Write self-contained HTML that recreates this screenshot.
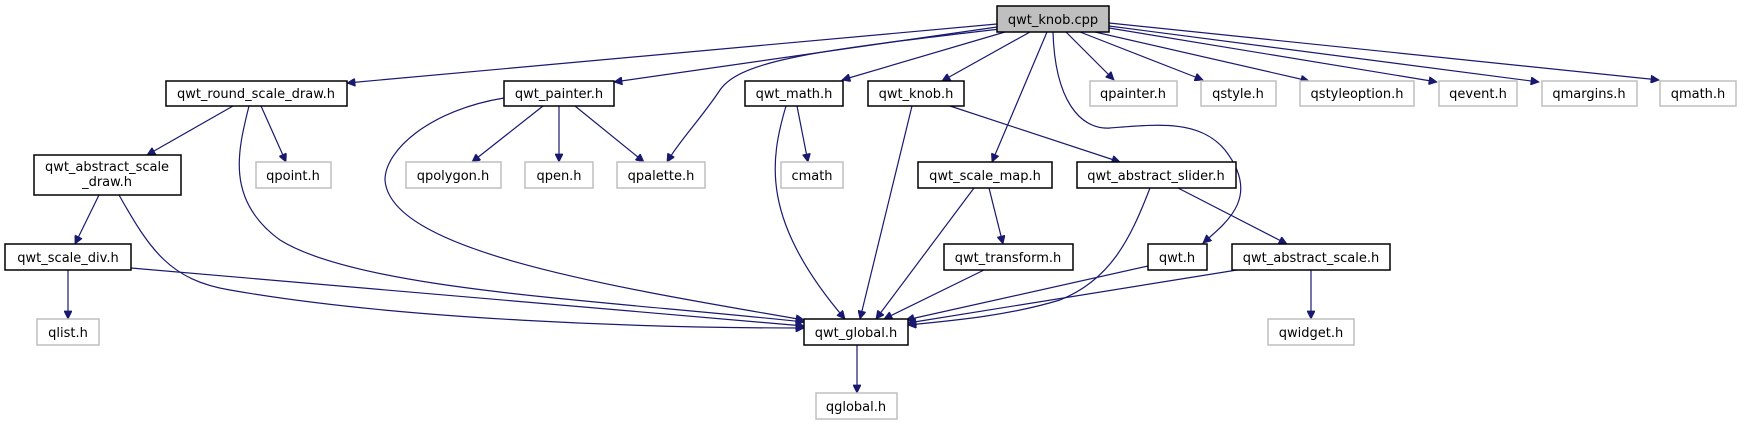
<!DOCTYPE html>
<html><head><meta charset="utf-8"><style>
html,body{margin:0;padding:0;background:#fff;}
svg{display:block;}
text{font-family:"DejaVu Sans","Liberation Sans",sans-serif;font-size:13px;fill:#000;text-anchor:middle;}
.n{fill:#fff;stroke:#000;stroke-width:1.5;}
.g{fill:#fff;stroke:#bfbfbf;stroke-width:1.5;}
.e{fill:none;stroke:#191970;stroke-width:1.2;marker-end:url(#a);}
</style></head><body>
<svg width="1743" height="425" viewBox="0 0 1743 425" xmlns="http://www.w3.org/2000/svg">
<defs><marker id="a" viewBox="0 0 10 10" refX="10" refY="5" markerWidth="10" markerHeight="8" markerUnits="userSpaceOnUse" orient="auto"><path d="M0,0 L10,5 L0,10 z" fill="#191970" stroke="#191970"/></marker></defs>
<!-- edges -->
<path class="e" d="M997,24 L347,83"/>
<path class="e" d="M997,27 L614,82"/>
<path class="e" d="M1000,29 C820,50 740,60 720,90 C700,120 680,140 667,162"/>
<path class="e" d="M1005,32 L842,80"/>
<path class="e" d="M1030,32 L942,81"/>
<path class="e" d="M1047,32 L992,162"/>
<path class="e" d="M1053,32 C1055,100 1080,130 1110,128 C1160,124 1200,120 1225,150 C1260,195 1230,220 1203,243"/>
<path class="e" d="M1066,32 L1114,80"/>
<path class="e" d="M1080,32 L1203,80"/>
<path class="e" d="M1095,32 L1309,81"/>
<path class="e" d="M1109,28 L1437,82"/>
<path class="e" d="M1109,26 L1539,82"/>
<path class="e" d="M1109,23 L1659,80"/>
<path class="e" d="M233,106 L147,155"/>
<path class="e" d="M261,106 L286,162"/>
<path class="e" d="M249,106 C238,150 225,200 280,240 C360,290 600,300 804,322"/>
<path class="e" d="M99,195 L75,244"/>
<path class="e" d="M119,195 C150,250 170,280 230,290 C400,320 650,328 804,328"/>
<path class="e" d="M68,270 L68,319"/>
<path class="e" d="M131,268 L804,326"/>
<path class="e" d="M543,106 L472,162"/>
<path class="e" d="M559,106 L559,162"/>
<path class="e" d="M575,106 L644,162"/>
<path class="e" d="M504,98 C430,110 385,150 385,180 C390,250 600,285 804,320"/>
<path class="e" d="M797,106 L808,162"/>
<path class="e" d="M786,106 C770,160 760,220 845,319"/>
<path class="e" d="M912,106 L860,319"/>
<path class="e" d="M950,106 L1120,162"/>
<path class="e" d="M989,188 L1003,244"/>
<path class="e" d="M974,188 L876,319"/>
<path class="e" d="M1150,188 C1130,240 1110,280 1060,300 C1010,315 960,320 908,325"/>
<path class="e" d="M1178,188 L1287,244"/>
<path class="e" d="M984,270 L884,319"/>
<path class="e" d="M1148,266 L906,320"/>
<path class="e" d="M1237,270 L908,323"/>
<path class="e" d="M1311,270 L1311,319"/>
<path class="e" d="M857,345 L857,393"/>
<!-- nodes -->
<rect x="997" y="6" width="112" height="26" style="fill:#bfbfbf;stroke:#000;stroke-width:1.5"/><text x="1053" y="24">qwt_knob.cpp</text>
<rect class="n" x="166" y="81" width="181" height="25"/><text x="256" y="98">qwt_round_scale_draw.h</text>
<rect class="n" x="504" y="81" width="110" height="25"/><text x="559" y="98">qwt_painter.h</text>
<rect class="n" x="745" y="81" width="98" height="25"/><text x="794" y="98">qwt_math.h</text>
<rect class="n" x="868" y="81" width="96" height="25"/><text x="916" y="98">qwt_knob.h</text>
<rect class="g" x="1090" y="81" width="87" height="25"/><text x="1133" y="98">qpainter.h</text>
<rect class="g" x="1201" y="81" width="75" height="25"/><text x="1238" y="98">qstyle.h</text>
<rect class="g" x="1300" y="81" width="114" height="25"/><text x="1357" y="98">qstyleoption.h</text>
<rect class="g" x="1439" y="81" width="78" height="25"/><text x="1478" y="98">qevent.h</text>
<rect class="g" x="1542" y="81" width="95" height="25"/><text x="1589" y="98">qmargins.h</text>
<rect class="g" x="1660" y="81" width="76" height="25"/><text x="1698" y="98">qmath.h</text>
<rect class="n" x="34" y="155" width="147" height="40"/><text x="107" y="171">qwt_abstract_scale</text><text x="107" y="186">_draw.h</text>
<rect class="g" x="256" y="162" width="75" height="26"/><text x="293" y="180">qpoint.h</text>
<rect class="g" x="406" y="162" width="95" height="26"/><text x="453" y="180">qpolygon.h</text>
<rect class="g" x="525" y="162" width="68" height="26"/><text x="559" y="180">qpen.h</text>
<rect class="g" x="617" y="162" width="88" height="26"/><text x="661" y="180">qpalette.h</text>
<rect class="g" x="781" y="162" width="62" height="26"/><text x="812" y="180">cmath</text>
<rect class="n" x="918" y="162" width="134" height="26"/><text x="985" y="180">qwt_scale_map.h</text>
<rect class="n" x="1077" y="162" width="159" height="26"/><text x="1156" y="180">qwt_abstract_slider.h</text>
<rect class="n" x="5" y="244" width="126" height="26"/><text x="68" y="262">qwt_scale_div.h</text>
<rect class="n" x="944" y="244" width="129" height="26"/><text x="1008" y="262">qwt_transform.h</text>
<rect class="n" x="1148" y="244" width="59" height="26"/><text x="1177" y="262">qwt.h</text>
<rect class="n" x="1232" y="244" width="158" height="26"/><text x="1311" y="262">qwt_abstract_scale.h</text>
<rect class="g" x="37" y="319" width="62" height="26"/><text x="68" y="337">qlist.h</text>
<rect class="n" x="804" y="319" width="104" height="26"/><text x="856" y="337">qwt_global.h</text>
<rect class="g" x="1268" y="319" width="86" height="26"/><text x="1311" y="337">qwidget.h</text>
<rect class="g" x="816" y="393" width="81" height="26"/><text x="856" y="411">qglobal.h</text>
</svg>
</body></html>
